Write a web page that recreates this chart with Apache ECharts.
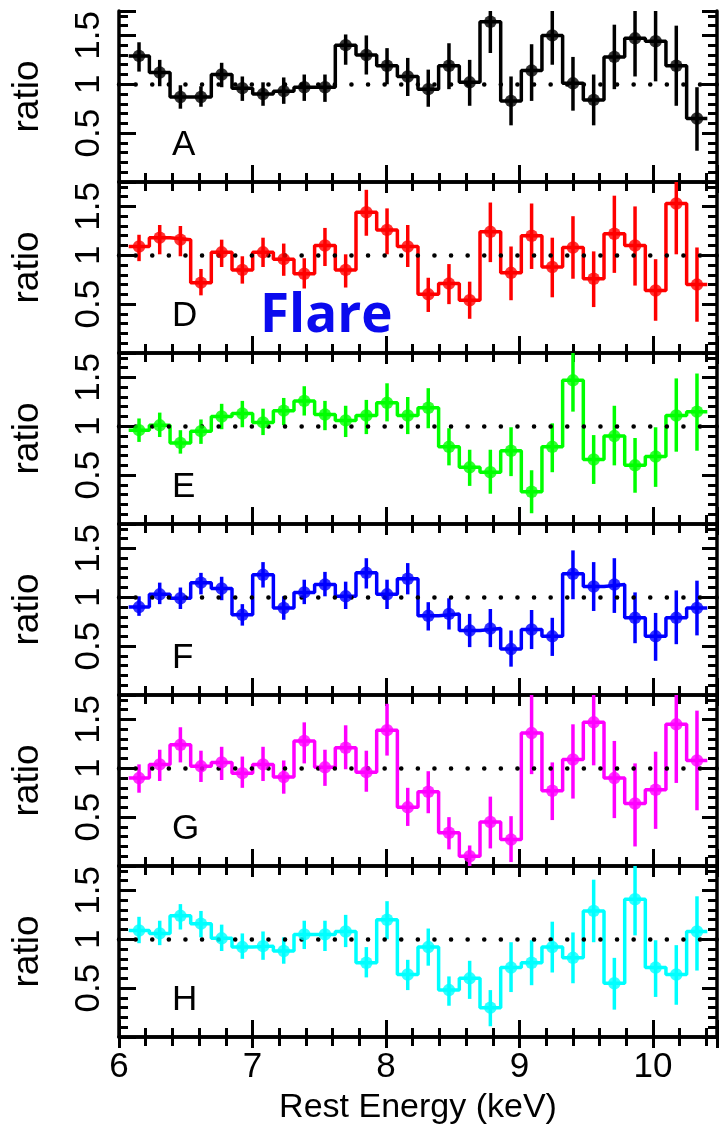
<!DOCTYPE html>
<html>
<head>
<meta charset="utf-8">
<script src="https://cdn.jsdelivr.net/npm/echarts@6/dist/echarts.min.js"></script>
<style>
html,body{margin:0;padding:0;background:#fff;}
#chart{width:720px;height:1132px;}
</style>
</head>
<body>
<div id="chart"></div>
<script>
// ---- data ----
const energy = [6.15, 6.305, 6.46, 6.614, 6.769, 6.924, 7.079, 7.234, 7.388, 7.543, 7.698, 7.853, 8.008, 8.163,
                8.317, 8.472, 8.627, 8.782, 8.937, 9.091, 9.246, 9.401, 9.556, 9.711, 9.866, 10.02, 10.175, 10.33];
const binHalfWidth = 0.0774;

const ratioA = [1.29,1.12,0.87,0.87,1.10,0.96,0.90,0.93,0.97,0.97,1.40,1.30,1.19,1.08,0.95,1.19,1.02,1.64,0.83,1.14,1.50,1.01,0.84,1.28,1.47,1.44,1.19,0.65];
const highA  = [1.43,1.25,0.99,0.98,1.22,1.08,1.02,1.07,1.10,1.10,1.51,1.50,1.37,1.27,1.15,1.42,1.25,1.75,1.08,1.41,1.75,1.28,1.10,1.61,1.75,1.75,1.60,0.97];
const lowA   = [1.13,0.98,0.75,0.77,0.97,0.83,0.78,0.80,0.83,0.82,1.20,1.10,1.00,0.88,0.77,0.95,0.78,1.32,0.58,0.83,1.20,0.73,0.58,0.95,1.08,1.03,0.78,0.32];

const ratioD = [1.09,1.18,1.16,0.72,1.03,0.85,1.03,0.96,0.81,1.10,0.85,1.44,1.26,1.09,0.60,0.71,0.54,1.24,0.82,1.20,0.88,1.08,0.76,1.22,1.10,0.64,1.53,0.70];
const highD  = [1.21,1.31,1.30,0.86,1.16,0.99,1.18,1.12,0.97,1.28,1.01,1.67,1.48,1.31,0.77,0.91,0.73,1.54,1.09,1.53,1.18,1.40,1.04,1.61,1.50,0.96,1.75,1.08];
const lowD   = [0.94,1.01,0.99,0.59,0.88,0.71,0.88,0.79,0.66,0.89,0.67,1.20,1.01,0.88,0.42,0.50,0.35,0.93,0.54,0.86,0.57,0.76,0.47,0.82,0.69,0.33,1.01,0.32];

const ratioE = [0.96,1.01,0.83,0.95,1.10,1.13,1.04,1.16,1.26,1.12,1.06,1.11,1.24,1.11,1.19,0.79,0.58,0.53,0.75,0.33,0.79,1.47,0.66,0.90,0.60,0.69,1.11,1.15];
const highE  = [1.08,1.14,0.96,1.07,1.23,1.26,1.18,1.29,1.41,1.26,1.21,1.27,1.44,1.30,1.39,0.98,0.76,0.76,0.99,0.55,1.03,1.75,0.91,1.21,0.88,0.99,1.49,1.54];
const lowE   = [0.84,0.89,0.72,0.82,0.97,0.99,0.91,1.01,1.11,0.96,0.89,0.92,1.05,0.92,0.98,0.60,0.39,0.31,0.49,0.11,0.53,1.15,0.41,0.60,0.32,0.38,0.74,0.75];

const ratioF = [0.90,1.03,0.99,1.15,1.09,0.82,1.23,0.89,1.05,1.13,1.01,1.25,1.03,1.19,0.81,0.83,0.66,0.68,0.47,0.67,0.60,1.24,1.11,1.13,0.79,0.60,0.79,0.89];
const highF  = [1.01,1.15,1.10,1.25,1.21,0.93,1.36,1.01,1.18,1.26,1.16,1.40,1.18,1.35,0.95,0.99,0.83,0.88,0.66,0.87,0.79,1.48,1.36,1.40,1.05,0.84,1.07,1.17];
const lowF   = [0.81,0.93,0.88,1.03,0.97,0.71,1.10,0.77,0.93,1.01,0.88,1.09,0.88,1.03,0.66,0.67,0.49,0.49,0.29,0.47,0.40,0.98,0.86,0.84,0.53,0.35,0.52,0.61];

const ratioG = [0.90,1.04,1.24,1.02,1.06,0.95,1.04,0.91,1.28,1.01,1.21,0.96,1.39,0.60,0.76,0.34,0.10,0.45,0.27,1.36,0.77,1.09,1.47,0.90,0.64,0.78,1.45,1.08];
const highG  = [1.04,1.19,1.42,1.18,1.22,1.12,1.22,1.08,1.47,1.19,1.44,1.18,1.66,0.80,0.97,0.50,0.21,0.71,0.51,1.75,1.06,1.45,1.75,1.28,1.05,1.17,1.75,1.59];
const lowG   = [0.75,0.87,1.06,0.86,0.88,0.80,0.87,0.74,1.05,0.82,0.99,0.76,1.13,0.41,0.54,0.17,0.00,0.18,0.04,0.94,0.47,0.69,1.03,0.49,0.20,0.38,0.85,0.57];

const ratioH = [1.09,1.06,1.24,1.16,1.01,0.92,0.93,0.88,1.05,1.05,1.08,0.76,1.20,0.64,0.92,0.48,0.60,0.30,0.71,0.76,0.92,0.81,1.29,0.55,1.41,0.71,0.64,1.08];
const highH  = [1.23,1.19,1.36,1.29,1.15,1.06,1.08,1.02,1.19,1.19,1.25,0.92,1.39,0.79,1.11,0.62,0.78,0.48,0.97,0.99,1.18,1.07,1.61,0.81,1.75,0.99,0.94,1.44];
const lowH   = [0.96,0.94,1.10,1.02,0.88,0.80,0.79,0.75,0.90,0.88,0.92,0.61,1.00,0.48,0.73,0.32,0.39,0.11,0.46,0.53,0.66,0.55,0.97,0.28,1.04,0.41,0.33,0.68];

const panelLabels = ['A', 'D', 'E', 'F', 'G', 'H'];
const panelColors = ['#000000', '#ff0000', '#00ff00', '#0000ff', '#ff00ff', '#00ffff'];
const panelRatio = [ratioA, ratioD, ratioE, ratioF, ratioG, ratioH];
const panelHigh = [highA, highD, highE, highF, highG, highH];
const panelLow = [lowA, lowD, lowE, lowF, lowG, lowH];
const yTickLabels = ['0.5', '1', '1.5'];
const xTickLabels = ['6', '7', '8', '9', '10'];
const xName = 'Rest Energy (keV)';
const yName = 'ratio';
const flareText = 'Flare';

// ---- layout ----
const FONT = "'Liberation Sans', Arial, Helvetica, sans-serif";
const X_MIN = 6, X_MAX = 10.48, Y_MIN = 0, Y_MAX = 1.75;
const GRID_LEFT = 119, GRID_W = 598, GRID_TOP0 = 11, GRID_H = 171;
const LW = 3.5;

function stepPoints(vals) {
  const pts = [];
  const n = energy.length;
  for (let i = 0; i < n; i++) {
    const l = i === 0 ? energy[0] - binHalfWidth : (energy[i - 1] + energy[i]) / 2;
    const r = i === n - 1 ? energy[n - 1] + binHalfWidth : (energy[i] + energy[i + 1]) / 2;
    pts.push([l, vals[i]]);
    pts.push([r, vals[i]]);
  }
  return pts;
}

const grids = [], xAxes = [], yAxes = [], series = [], titles = [];
const axisLineStyle = {show: true, lineStyle: {color: '#000', width: LW}};

function fmtY(v) {
  const s = String(Math.round(v * 100) / 100);
  return yTickLabels.indexOf(s) >= 0 ? s : '';
}
function fmtX(v) {
  const s = String(Math.round(v * 100) / 100);
  return xTickLabels.indexOf(s) >= 0 ? s : '';
}

for (let p = 0; p < 6; p++) {
  const top = GRID_TOP0 + p * GRID_H;
  grids.push({left: GRID_LEFT, top: top, width: GRID_W, height: GRID_H, containLabel: false});
  const last = p === 5;
  const xBase = {gridIndex: p, type: 'value', min: X_MIN, max: X_MAX, splitLine: {show: false}};
  xAxes.push(Object.assign({}, xBase, {
    position: 'bottom', interval: 1, axisLine: axisLineStyle,
    axisTick: {inside: true, length: 17, lineStyle: {width: 3, color: '#000'}},
    axisLabel: {show: last, formatter: fmtX, fontSize: 35, color: '#000', fontFamily: FONT, margin: 13},
    name: last ? xName : '', nameLocation: 'middle', nameGap: 54,
    nameTextStyle: {fontSize: 34, color: '#000', fontFamily: FONT}
  }));
  xAxes.push(Object.assign({}, xBase, {
    position: 'bottom', interval: 0.2, axisLine: {show: false},
    axisTick: {inside: true, length: 9, lineStyle: {width: 3, color: '#000'}},
    axisLabel: {show: false}
  }));
  xAxes.push(Object.assign({}, xBase, {
    position: 'top', interval: 1, axisLine: axisLineStyle,
    axisTick: {inside: true, length: 11, lineStyle: {width: 3, color: '#000'}},
    axisLabel: {show: false}
  }));
  xAxes.push(Object.assign({}, xBase, {
    position: 'top', interval: 0.2, axisLine: {show: false},
    axisTick: {inside: true, length: 9, lineStyle: {width: 3, color: '#000'}},
    axisLabel: {show: false}
  }));

  const yBase = {gridIndex: p, type: 'value', min: Y_MIN, max: Y_MAX, splitLine: {show: false}};
  yAxes.push(Object.assign({}, yBase, {
    position: 'left', interval: 0.5, axisLine: axisLineStyle,
    axisTick: {inside: true, length: 17, lineStyle: {width: 3, color: '#000'}},
    axisLabel: {show: true, rotate: 90, formatter: fmtY, fontSize: 35, color: '#000', fontFamily: FONT, margin: 12},
    name: yName, nameLocation: 'middle', nameGap: 73,
    nameTextStyle: {fontSize: 37, color: '#000', fontFamily: FONT}
  }));
  yAxes.push(Object.assign({}, yBase, {
    position: 'left', interval: 0.1, axisLine: {show: false},
    axisTick: {inside: true, length: 9, lineStyle: {width: 3, color: '#000'}},
    axisLabel: {show: false}
  }));
  yAxes.push(Object.assign({}, yBase, {
    position: 'right', interval: 0.5, axisLine: axisLineStyle,
    axisTick: {inside: true, length: 15, lineStyle: {width: 3, color: '#000'}},
    axisLabel: {show: false}
  }));
  yAxes.push(Object.assign({}, yBase, {
    position: 'right', interval: 0.1, axisLine: {show: false},
    axisTick: {inside: true, length: 9, lineStyle: {width: 3, color: '#000'}},
    axisLabel: {show: false}
  }));

  const color = panelColors[p];
  const xi = p * 4, yi = p * 4;

  series.push({
    type: 'line', xAxisIndex: xi, yAxisIndex: yi, data: [], z: 1,
    markLine: {
      silent: true, symbol: 'none', label: {show: false}, animation: false,
      lineStyle: {color: '#000', type: [0.1, 16.5], width: 4.5, cap: 'round'},
      data: [{yAxis: 1}]
    }
  });
  series.push({
    type: 'line', xAxisIndex: xi, yAxisIndex: yi, data: stepPoints(panelRatio[p]),
    showSymbol: false, symbol: 'none', lineStyle: {color: color, width: 3.5}, z: 3, clip: true
  });
  const eb = energy.map((e, i) => [e, panelLow[p][i], panelHigh[p][i]]);
  series.push({
    type: 'custom', xAxisIndex: xi, yAxisIndex: yi, data: eb, z: 4, clip: true,
    encode: {x: 0, y: [1, 2]},
    renderItem: function (params, api) {
      const a = api.coord([api.value(0), api.value(1)]);
      const b = api.coord([api.value(0), api.value(2)]);
      return {type: 'line', shape: {x1: a[0], y1: a[1], x2: b[0], y2: b[1]},
              style: {stroke: color, lineWidth: 3.5}};
    }
  });
  series.push({
    type: 'scatter', xAxisIndex: xi, yAxisIndex: yi, z: 5,
    data: energy.map((e, i) => [e, panelRatio[p][i]]),
    symbol: 'circle', symbolSize: 12.5, itemStyle: {color: color}
  });

  titles.push({
    text: panelLabels[p], left: 172, top: top + 117, padding: 0,
    textStyle: {fontSize: 35, fontWeight: 'normal', color: '#000', fontFamily: FONT}
  });
}

titles.push({
  text: flareText, left: 260, top: 290, padding: 0,
  textStyle: {fontSize: 53, fontWeight: 'bold', color: '#0a0aee', fontFamily: "'Open Sans', 'Noto Sans', sans-serif"}
});

const chart = echarts.init(document.getElementById('chart'), null, {renderer: 'canvas'});
chart.setOption({
  animation: false,
  backgroundColor: '#ffffff',
  title: titles,
  grid: grids,
  xAxis: xAxes,
  yAxis: yAxes,
  series: series
});
</script>
</body>
</html>
